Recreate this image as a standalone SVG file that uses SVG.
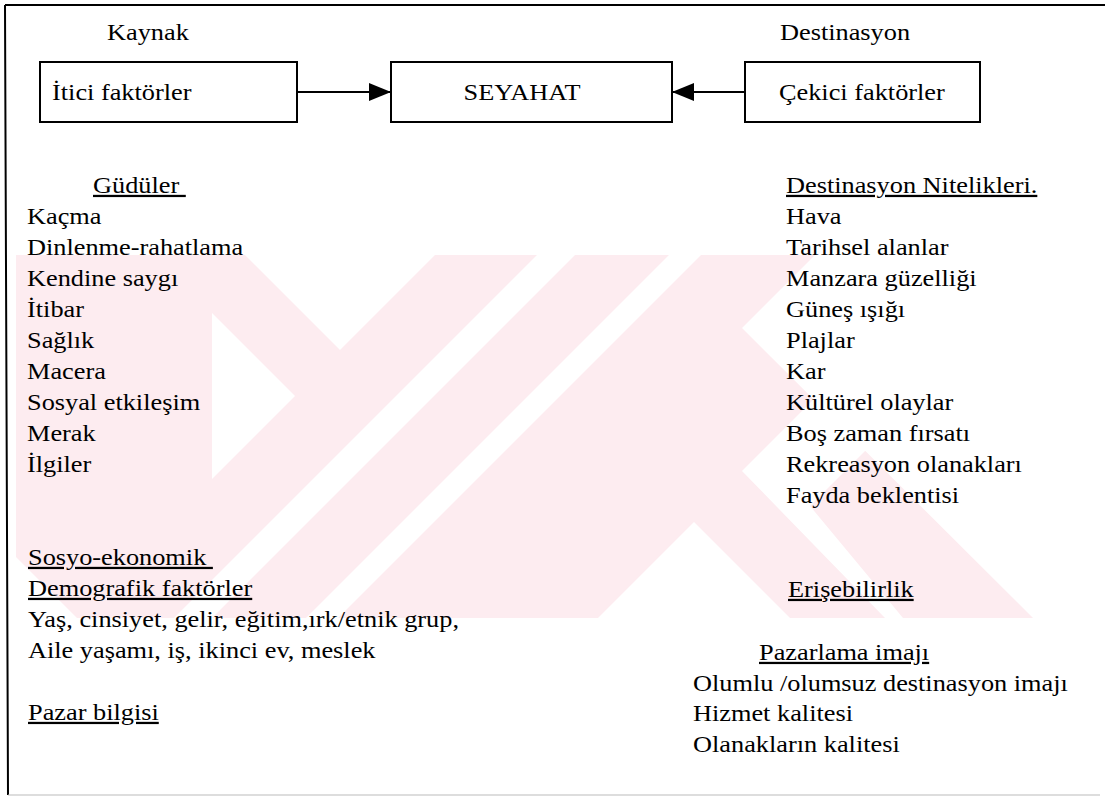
<svg xmlns="http://www.w3.org/2000/svg" width="1105" height="798" viewBox="0 0 1105 798">
<defs>
<style>
.t{font-size:22.5px;fill:#000}
.u{text-decoration:underline}
.box{fill:none;stroke:#000;stroke-width:2}
.wm{fill:#fdecf0}
.cut{fill:#fff}
</style>
<marker id="ah" viewBox="0 0 22 18" refX="22" refY="9" markerWidth="22" markerHeight="18" markerUnits="userSpaceOnUse" orient="auto">
<path d="M0,0 L22,9 L0,18 Z" fill="#000"/>
</marker>
</defs>
<rect width="1105" height="798" fill="#fff"/>
<g id="watermark">
<polygon class="wm" points="16,255 245,255 340,350 435,255 815,255 742,328 1033,618 77,618 16,557"/>
<polygon class="cut" points="295,396 212,313 212,479"/>
<polygon class="cut" points="537,255 575,255 212,618 174,618"/>
<polygon class="cut" points="669,255 701,255 338,618 306,618"/>
<polygon class="cut" points="598,618 694,522 790,618"/>
<polygon class="cut" points="742,471 826,387 878,438 810,506 903,618 885,618"/>
</g>
<g id="frame" fill="none">
<path d="M5,5 H1105 M5,5 L8,795" stroke="#000" stroke-width="2"/>
<path d="M8,795 H1100" stroke="#bbb" stroke-width="1"/>
</g>
<g font-family="Liberation Serif, DejaVu Serif, serif">
<g id="headers">
<text class="t" transform="translate(107 40) scale(1.17 1)">Kaynak</text>
<text class="t" transform="translate(780 40) scale(1.17 1)">Destinasyon</text>
</g>
<g id="n-itici">
<rect class="box" x="40" y="62" width="257" height="60"/>
<text class="t" transform="translate(52 100) scale(1.17 1)">İtici faktörler</text>
</g>
<g id="n-seyahat">
<rect class="box" x="391" y="62" width="281" height="60"/>
<text class="t" text-anchor="middle" transform="translate(522 100) scale(1.17 1)">SEYAHAT</text>
</g>
<g id="n-cekici">
<rect class="box" x="745" y="62" width="235" height="60"/>
<text class="t" transform="translate(779 100) scale(1.17 1)">Çekici faktörler</text>
</g>
<g id="gudüler">
<text class="t u" transform="translate(93 193) scale(1.17 1)">Güdüler&#160;</text>
<text class="t" transform="translate(27 224) scale(1.17 1)">Kaçma</text>
<text class="t" transform="translate(27 255) scale(1.17 1)">Dinlenme-rahatlama</text>
<text class="t" transform="translate(27 286) scale(1.17 1)">Kendine saygı</text>
<text class="t" transform="translate(27 317) scale(1.17 1)">İtibar</text>
<text class="t" transform="translate(27 348) scale(1.17 1)">Sağlık</text>
<text class="t" transform="translate(27 379) scale(1.17 1)">Macera</text>
<text class="t" transform="translate(27 410) scale(1.17 1)">Sosyal etkileşim</text>
<text class="t" transform="translate(27 441) scale(1.17 1)">Merak</text>
<text class="t" transform="translate(27 472) scale(1.17 1)">İlgiler</text>
</g>
<g id="sosyo">
<text class="t u" transform="translate(28 565) scale(1.17 1)">Sosyo-ekonomik&#160;</text>
<text class="t u" transform="translate(28 596) scale(1.17 1)">Demografik faktörler</text>
<text class="t" transform="translate(28 627) scale(1.17 1)">Yaş, cinsiyet, gelir, eğitim,ırk/etnik grup,</text>
<text class="t" transform="translate(28 658) scale(1.17 1)">Aile yaşamı, iş, ikinci ev, meslek</text>
</g>
<g id="pazar-bilgisi">
<text class="t u" transform="translate(28 720) scale(1.17 1)">Pazar bilgisi</text>
</g>
<g id="nitelikler">
<text class="t u" transform="translate(786 193) scale(1.17 1)">Destinasyon Nitelikleri.</text>
<text class="t" transform="translate(786 224) scale(1.17 1)">Hava</text>
<text class="t" transform="translate(786 255) scale(1.17 1)">Tarihsel alanlar</text>
<text class="t" transform="translate(786 286) scale(1.17 1)">Manzara güzelliği</text>
<text class="t" transform="translate(786 317) scale(1.17 1)">Güneş ışığı</text>
<text class="t" transform="translate(786 348) scale(1.17 1)">Plajlar</text>
<text class="t" transform="translate(786 379) scale(1.17 1)">Kar</text>
<text class="t" transform="translate(786 410) scale(1.17 1)">Kültürel olaylar</text>
<text class="t" transform="translate(786 441) scale(1.17 1)">Boş zaman fırsatı</text>
<text class="t" transform="translate(786 472) scale(1.17 1)">Rekreasyon olanakları</text>
<text class="t" transform="translate(786 503) scale(1.17 1)">Fayda beklentisi</text>
</g>
<g id="erisebilirlik">
<text class="t u" transform="translate(788 597) scale(1.17 1)">Erişebilirlik</text>
</g>
<g id="pazarlama">
<text class="t u" transform="translate(759 660) scale(1.17 1)">Pazarlama imajı</text>
<text class="t" transform="translate(693 691) scale(1.17 1)">Olumlu /olumsuz destinasyon imajı</text>
<text class="t" transform="translate(693 721) scale(1.17 1)">Hizmet kalitesi</text>
<text class="t" transform="translate(693 752) scale(1.17 1)">Olanakların kalitesi</text>
</g>
</g>
<g id="connectors" stroke="#000" stroke-width="2">
<line x1="297" y1="92" x2="391" y2="92" marker-end="url(#ah)"/>
<line x1="745" y1="92" x2="672" y2="92" marker-end="url(#ah)"/>
</g>
</svg>
